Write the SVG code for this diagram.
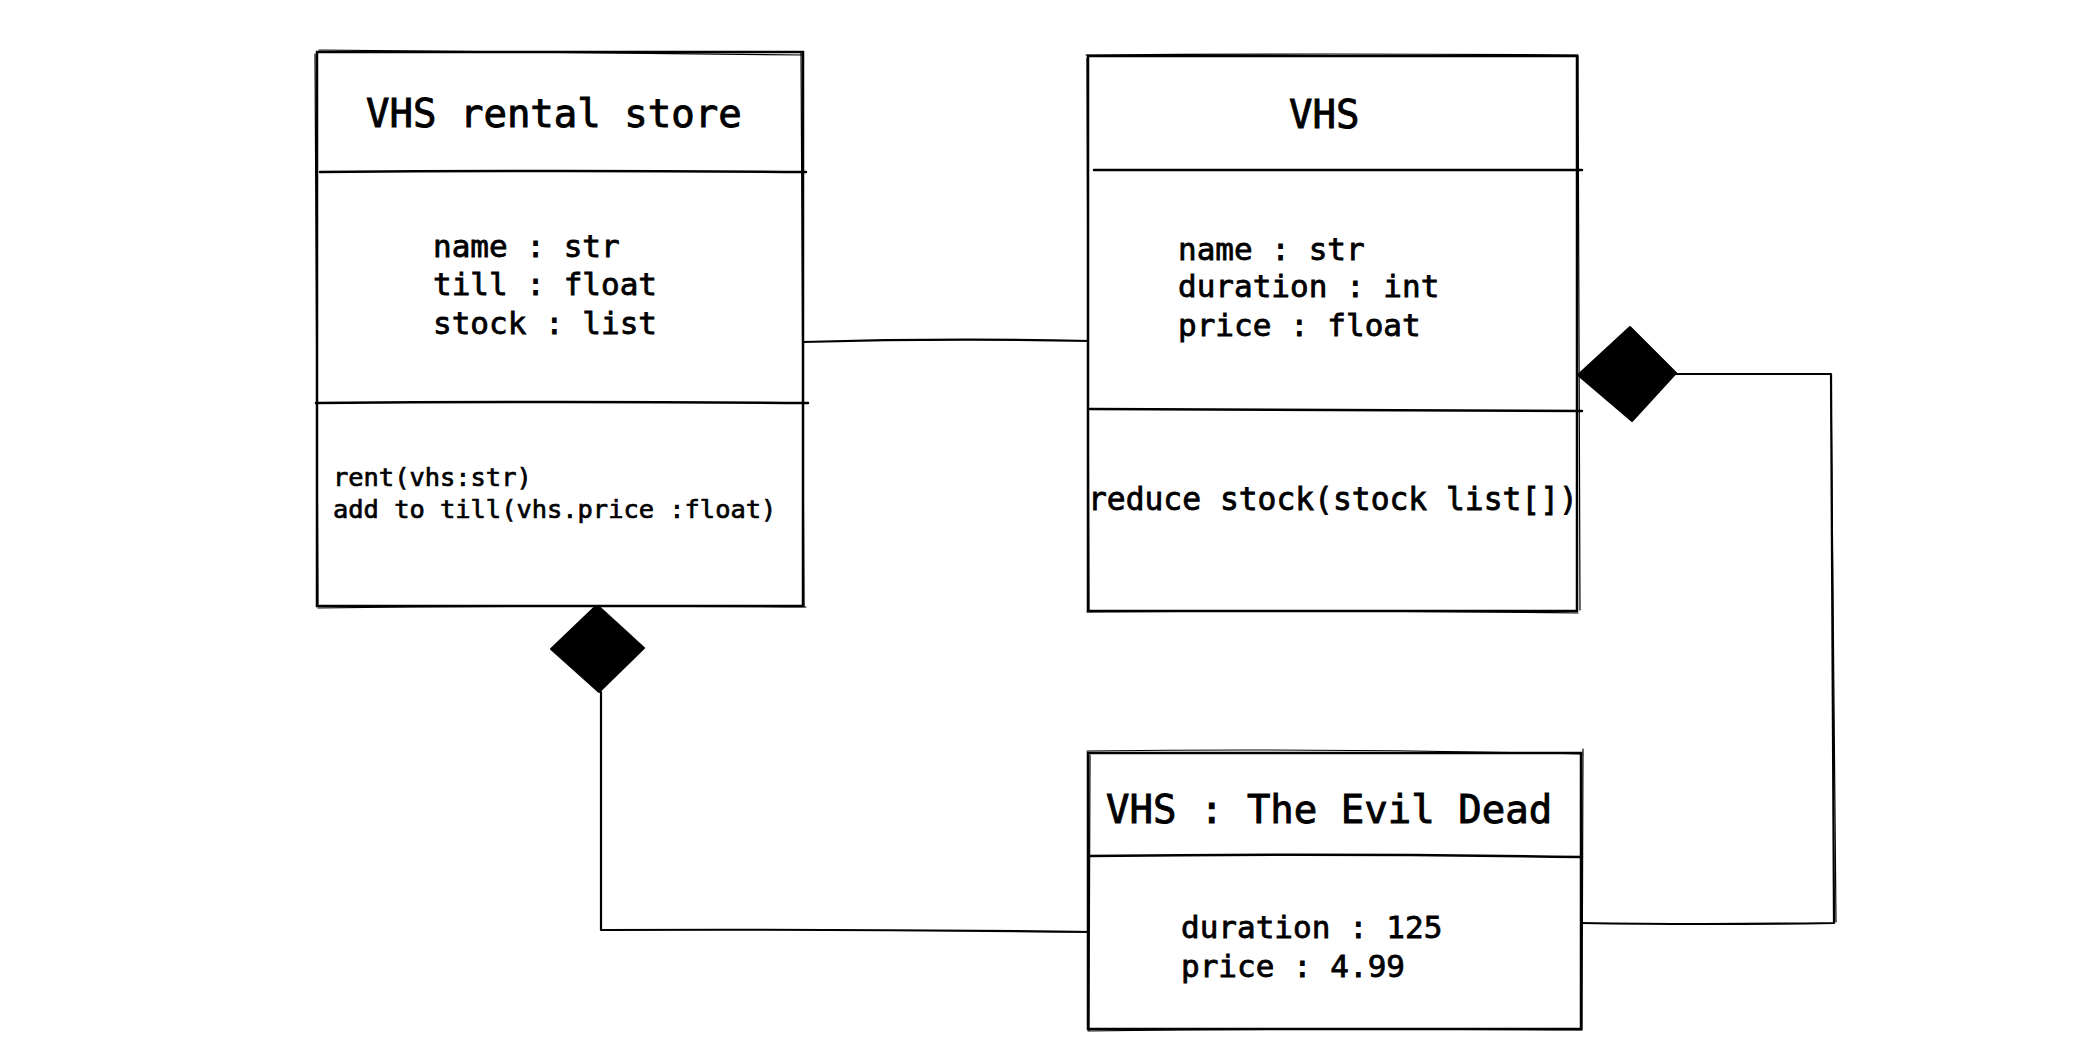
<svg xmlns="http://www.w3.org/2000/svg" width="2089" height="1037" viewBox="0 0 2089 1037">
  <style>
    .box { fill: #ffffff; stroke: #000000; stroke-width: 2.5; }
    .sk { fill: none; stroke: #000000; stroke-width: 1.2; stroke-linecap: round; }
    .div { fill: none; stroke: #000000; stroke-width: 2.5; stroke-linecap: round; }
    .conn { fill: none; stroke: #000000; stroke-width: 2.2; stroke-linecap: round; stroke-linejoin: round; }
    .diamond { fill: #000000; stroke: #000000; stroke-width: 2; stroke-linejoin: round; }
    .title { font-family: "DejaVu Sans Mono", "Liberation Mono", monospace; font-size: 39px; fill: #000000; stroke: #000000; stroke-width: 0.9; }
    .attr { font-family: "DejaVu Sans Mono", "Liberation Mono", monospace; font-size: 31px; fill: #000000; stroke: #000000; stroke-width: 0.8; }
    .meth { font-family: "DejaVu Sans Mono", "Liberation Mono", monospace; font-size: 25.4px; fill: #000000; stroke: #000000; stroke-width: 0.7; }
  </style>
  <rect width="2089" height="1037" fill="#ffffff"/>

  <g id="connectors">
    <path class="conn" d="M803,342 Q946,338 1090,341"/>
    <path class="conn" d="M601,692 L601,930 Q850,929 1094,932"/>
    <path class="conn" d="M1676,374 L1831,374 L1834,923 Q1700,925 1581,923"/>
    <path class="sk" d="M1831,376 L1836,922"/>
    <polygon class="diamond" points="597,605 644,648 599,692 551,649"/>
    <polygon class="diamond" points="1578,375 1630,327 1676,373 1632,421"/>
  </g>

  <g id="vhs-rental-store">
    <rect class="box" x="317" y="52" width="486" height="554"/>
    <path class="sk" d="M319,50 Q560,53 803,55 M315,54 L318,604 M801,52 L804,606 M318,608 Q560,605 806,607"/>
    <path class="div" d="M320,172 Q560,170 806,172"/>
    <path class="div" d="M316,403 Q560,401 808,403"/>
    <text class="title" x="366" y="127">VHS rental store</text>
    <text class="attr" x="433" y="257">name : str</text>
    <text class="attr" x="433" y="295">till : float</text>
    <text class="attr" x="433" y="334">stock : list</text>
    <text class="meth" x="333" y="486">rent(vhs:str)</text>
    <text class="meth" x="333" y="518">add to till(vhs.price :float)</text>
  </g>

  <g id="vhs">
    <rect class="box" x="1088" y="56" width="489" height="555"/>
    <path class="sk" d="M1086,55 Q1330,53 1578,55 M1087,58 L1089,612 M1578,56 L1580,610 M1087,612 Q1330,610 1578,613"/>
    <path class="div" d="M1094,170 Q1330,169 1582,170"/>
    <path class="div" d="M1090,409 Q1330,411 1582,411"/>
    <text class="title" x="1289" y="128">VHS</text>
    <text class="attr" x="1178" y="260">name : str</text>
    <text class="attr" x="1178" y="297">duration : int</text>
    <text class="attr" x="1178" y="336">price : float</text>
    <text class="attr" x="1088" y="510" style="font-size:31.3px">reduce stock(stock list[])</text>
  </g>

  <g id="vhs-evil-dead">
    <rect class="box" x="1088" y="753" width="493" height="276"/>
    <path class="sk" d="M1087,751 Q1330,748 1582,754 M1090,755 L1089,1030 M1583,749 L1582,1030 M1088,1031 Q1330,1028 1582,1030"/>
    <path class="div" d="M1089,856 Q1330,853 1582,857"/>
    <text class="title" x="1106" y="823">VHS : The Evil Dead</text>
    <text class="attr" x="1181" y="938">duration : 125</text>
    <text class="attr" x="1181" y="977">price : 4.99</text>
  </g>
</svg>
